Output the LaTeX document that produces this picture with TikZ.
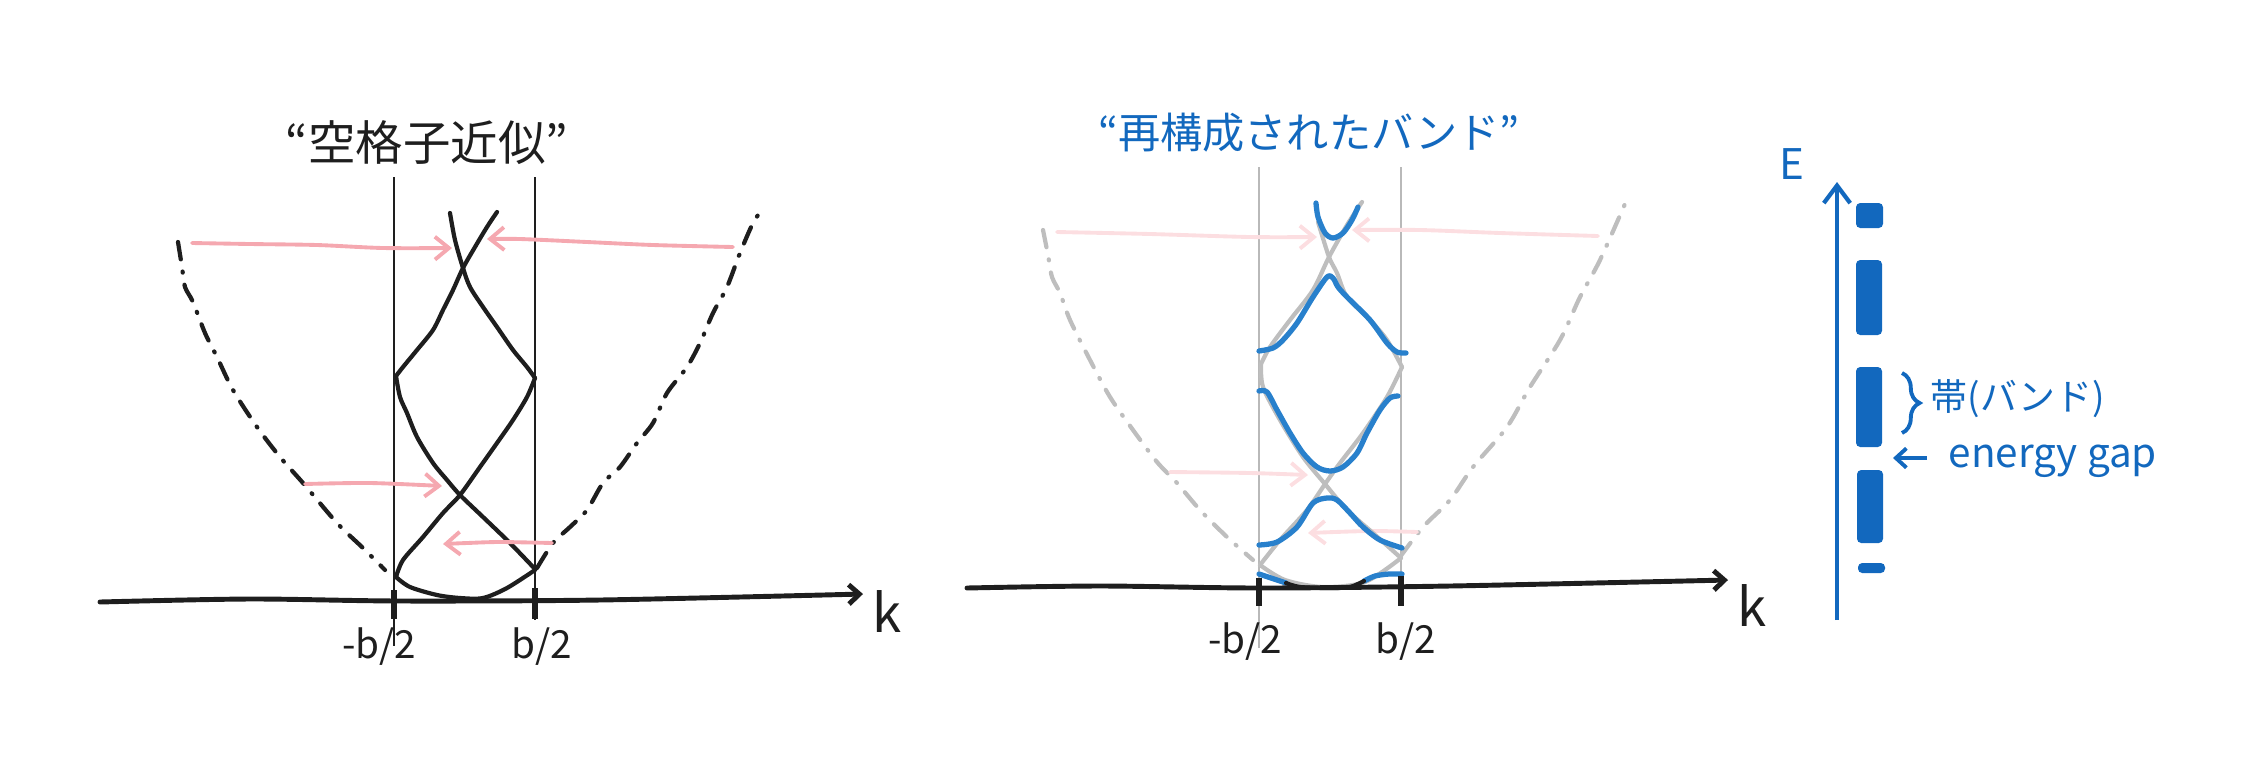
\documentclass[tikz,border=0pt]{standalone}
\usepackage{fontspec}
\setmainfont{Noto Sans CJK JP}
\usetikzlibrary{arrows.meta,decorations.pathreplacing}
\definecolor{inkK}{RGB}{30,30,30}
\definecolor{pinkA}{RGB}{245,168,176}
\definecolor{pinkB}{RGB}{252,222,225}
\definecolor{grayB}{RGB}{190,190,190}
\definecolor{thinG}{RGB}{185,185,185}
\definecolor{blueT}{RGB}{18,104,190}
\definecolor{blueB}{RGB}{40,128,204}
\tikzset{
  curveK/.style={draw=inkK, line width=1.2pt, line cap=round, line join=round},
  curveG/.style={draw=grayB, line width=1.2pt, line cap=round, line join=round},
  bandB/.style={draw=blueB, line width=1.5pt, line cap=round, line join=round},
  dashK/.style={draw=inkK, line width=1.2pt, line cap=round, dash pattern=on 5pt off 3.5pt on 0.3pt off 3.5pt},
  dashG/.style={draw=grayB, line width=1.2pt, line cap=round, dash pattern=on 5pt off 3.5pt on 0.3pt off 3.5pt},
  pinkarrow/.style={draw=pinkA, line width=1.1pt, line cap=round, -{Straight Barb[length=4pt,width=6.5pt]}},
  pinkarrowL/.style={draw=pinkB, line width=1.1pt, line cap=round, -{Straight Barb[length=4pt,width=6.5pt]}},
  kaxis/.style={draw=inkK, line width=1.4pt, line cap=round, -{Straight Barb[length=3pt,width=5.5pt]}},
  zoneK/.style={draw=inkK, line width=0.4pt},
  zoneG/.style={draw=thinG, line width=0.45pt},
  tickK/.style={draw=inkK, line width=1.5pt},
  lab/.style={font=\fontsize{11}{13}\selectfont, text=inkK, inner sep=0pt},
  klab/.style={font=\fontsize{15}{17}\selectfont, text=inkK, inner sep=0pt},
  title/.style={font=\fontsize{12}{14}\selectfont, inner sep=0pt},
  bar/.style={fill=blueT, rounded corners=1.2pt},
}
\begin{document}
\begin{tikzpicture}[x=0.01cm, y=-0.01cm]
\useasboundingbox (0,0) rectangle (2245,763);

%%%%%%%%%%%%%%%% LEFT: empty lattice approximation %%%%%%%%%%%%%%%%
\node[title, text=inkK, font=\fontsize{13.5}{15}\selectfont] (tl) at (427,143) {“空格子近似”};

% zone boundaries
\draw[zoneK] (394,177) -- (394,646);
\draw[zoneK] (535,177) -- (535,620);

% k axis
\draw[kaxis] plot[smooth] coordinates {(100,602) (250,599) (400,601) (600,600) (863,594)};
\draw[tickK] (394,590) -- (394,619);
\draw[tickK] (535,588) -- (535,619);
\node[lab] (lmb) at (379,647) {-b/2};
\node[lab] (lpb) at (542,647) {b/2};
\node[klab] (lk) at (887,611) {k};

% free-electron parabola (dashed)
\draw[dashK] plot[smooth] coordinates {(178,242) (182,267) (185,287) (193,302) (205,333) (217,357) (233,390) (257,427) (280,457) (303,483) (337,523) (363,548) (385,570)};
\draw[dashK] plot[smooth] coordinates {(537,568) (553,543) (570,527) (587,510) (603,483) (620,467) (637,443) (653,423) (667,393) (687,367) (700,343) (713,313) (727,287) (740,253) (753,223) (762,210)};

% folded bands
\draw[curveK] plot[smooth] coordinates {(450,213) (455,240) (463,268) (470,287) (483,307) (497,327) (513,350) (527,367) (535,378)};
\draw[curveK] plot[smooth] coordinates {(497,212) (487,227) (475,247) (463,268) (453,290) (443,310) (433,330) (417,350) (403,367) (396,376)};
\draw[curveK] plot[smooth] coordinates {(396,376) (400,397) (407,413) (417,437) (433,463) (447,480) (460,495) (483,517) (510,543) (535,569)};
\draw[curveK] plot[smooth] coordinates {(535,378) (527,397) (513,420) (497,443) (480,467) (460,495) (443,513) (423,537) (403,560) (396,577)};
\draw[curveK] plot[smooth] coordinates {(396,577) (410,587) (437,595) (460,598) (483,598) (507,588) (535,570)};

% pink arrows
\draw[pinkarrow] plot[smooth] coordinates {(192,243) (250,244) (317,245) (383,248) (452,248)};
\draw[pinkarrow] plot[smooth] coordinates {(733,247) (653,245) (587,242) (520,239) (487,239)};
\draw[pinkarrow] plot[smooth] coordinates {(305,484) (370,483) (442,486)};
\draw[pinkarrow] plot[smooth] coordinates {(552,543) (500,542) (467,543) (443,544)};

%%%%%%%%%%%%%%%% MIDDLE: reconstructed bands %%%%%%%%%%%%%%%%
\node[title, text=blueT] (tm) at (1309,133) {“再構成されたバンド”};

\draw[zoneG] (1259,167) -- (1259,648);
\draw[zoneG] (1401,167) -- (1401,606);

% gray dashed parabola
\draw[dashG] plot[smooth] coordinates {(1043,230) (1048,255) (1052,277) (1060,293) (1070,320) (1090,360) (1110,397) (1133,430) (1157,462) (1177,483) (1200,510) (1227,537) (1253,560)};
\draw[dashG] plot[smooth] coordinates {(1400,557) (1423,527) (1450,500) (1473,467) (1507,427) (1530,387) (1560,340) (1580,297) (1600,260) (1628,197)};

% pink arrows (light)
\draw[pinkarrowL] plot[smooth] coordinates {(1057,232) (1150,234) (1250,237) (1317,237)};
\draw[pinkarrowL] plot[smooth] coordinates {(1598,236) (1500,233) (1420,230) (1352,230)};
\draw[pinkarrowL] plot[smooth] coordinates {(1170,472) (1250,473) (1308,475)};
\draw[pinkarrowL] plot[smooth] coordinates {(1417,532) (1370,531) (1308,533)};

% gray folded bands
\draw[curveG] plot[smooth] coordinates {(1318,222) (1329,257) (1337,273) (1347,297) (1370,320) (1387,340) (1402,367)};
\draw[curveG] plot[smooth] coordinates {(1362,202) (1347,225) (1329,257) (1313,290) (1290,320) (1270,347) (1261,364)};
\draw[curveG] plot[smooth] coordinates {(1261,364) (1263,387) (1280,420) (1303,457) (1325,484) (1347,510) (1373,533) (1401,558)};
\draw[curveG] plot[smooth] coordinates {(1402,367) (1387,397) (1363,433) (1340,463) (1325,484) (1307,510) (1280,540) (1260,565)};
\draw[curveG] plot[smooth] coordinates {(1260,565) (1285,580) (1323,587) (1365,582) (1401,558)};

% blue bands
\draw[bandB] plot[smooth] coordinates {(1316,203) (1318,217) (1325,233) (1333,238) (1343,233) (1352,220) (1358,207)};
\draw[bandB] plot[smooth] coordinates {(1259,351) (1273,348) (1283,340) (1297,323) (1313,297) (1327,277) (1333,278) (1338,287) (1347,297) (1370,320) (1387,343) (1397,352) (1406,353)};
\draw[bandB] plot[smooth] coordinates {(1259,391) (1267,392) (1277,410) (1290,433) (1303,453) (1317,467) (1330,471) (1343,467) (1357,453) (1367,433) (1380,410) (1390,398) (1398,396)};
\draw[bandB] plot[smooth] coordinates {(1259,545) (1277,542) (1297,527) (1313,503) (1327,498) (1337,500) (1350,513) (1363,527) (1380,540) (1402,548)};
\draw[bandB] plot[smooth] coordinates {(1259,574) (1271,578) (1286,583)};
\draw[bandB] plot[smooth] coordinates {(1364,581) (1375,576) (1389,574) (1402,574)};
\draw[curveK] plot[smooth] coordinates {(1286,583) (1300,587) (1330,588) (1350,587) (1364,581)};

% k axis
\draw[kaxis] plot[smooth] coordinates {(967,588) (1100,586) (1260,588) (1450,586) (1728,580)};
\draw[tickK] (1259,578) -- (1259,606);
\draw[tickK] (1401,576) -- (1401,606);
\node[lab] (mmb) at (1245,642) {-b/2};
\node[lab] (mpb) at (1406,642) {b/2};
\node[klab] (mk) at (1752,605) {k};

%%%%%%%%%%%%%%%% RIGHT: energy axis %%%%%%%%%%%%%%%%
\coordinate (eb) at (1837,620);
\coordinate (et) at (1837,182);
\draw[draw=blueT, line width=1.2pt, -{Straight Barb[length=5pt,width=7.5pt]}] (eb) -- (et);
\node[font=\fontsize{12}{14}\selectfont, text=blueT, inner sep=0pt] (E) at (1792,164) {E};

\path[bar] (1856,203) rectangle (1883,228);
\path[bar] (1856,260) rectangle (1882,335);
\path[bar] (1856,367) rectangle (1882,447);
\path[bar] (1857,470) rectangle (1883,543);
\path[bar] (1858,563) rectangle (1885,573);

\draw[draw=blueT, line width=1.1pt, decorate, decoration={brace, amplitude=5pt}] (1902,373) -- (1902,433);
\node[font=\fontsize{10.5}{12}\selectfont, text=blueT, inner sep=0pt, anchor=west] (band) at (1930,399) {帯(バンド)};

\coordinate (ga0) at (1927,458);
\coordinate (ga1) at (1893,458);
\draw[draw=blueT, line width=1.1pt, -{Straight Barb[length=3pt,width=5.5pt]}] (ga0) -- (ga1);
\node[font=\fontsize{11.5}{13}\selectfont, text=blueT, inner sep=0pt, anchor=west] (gap) at (1948,461) {energy gap};
\end{tikzpicture}
\end{document}
